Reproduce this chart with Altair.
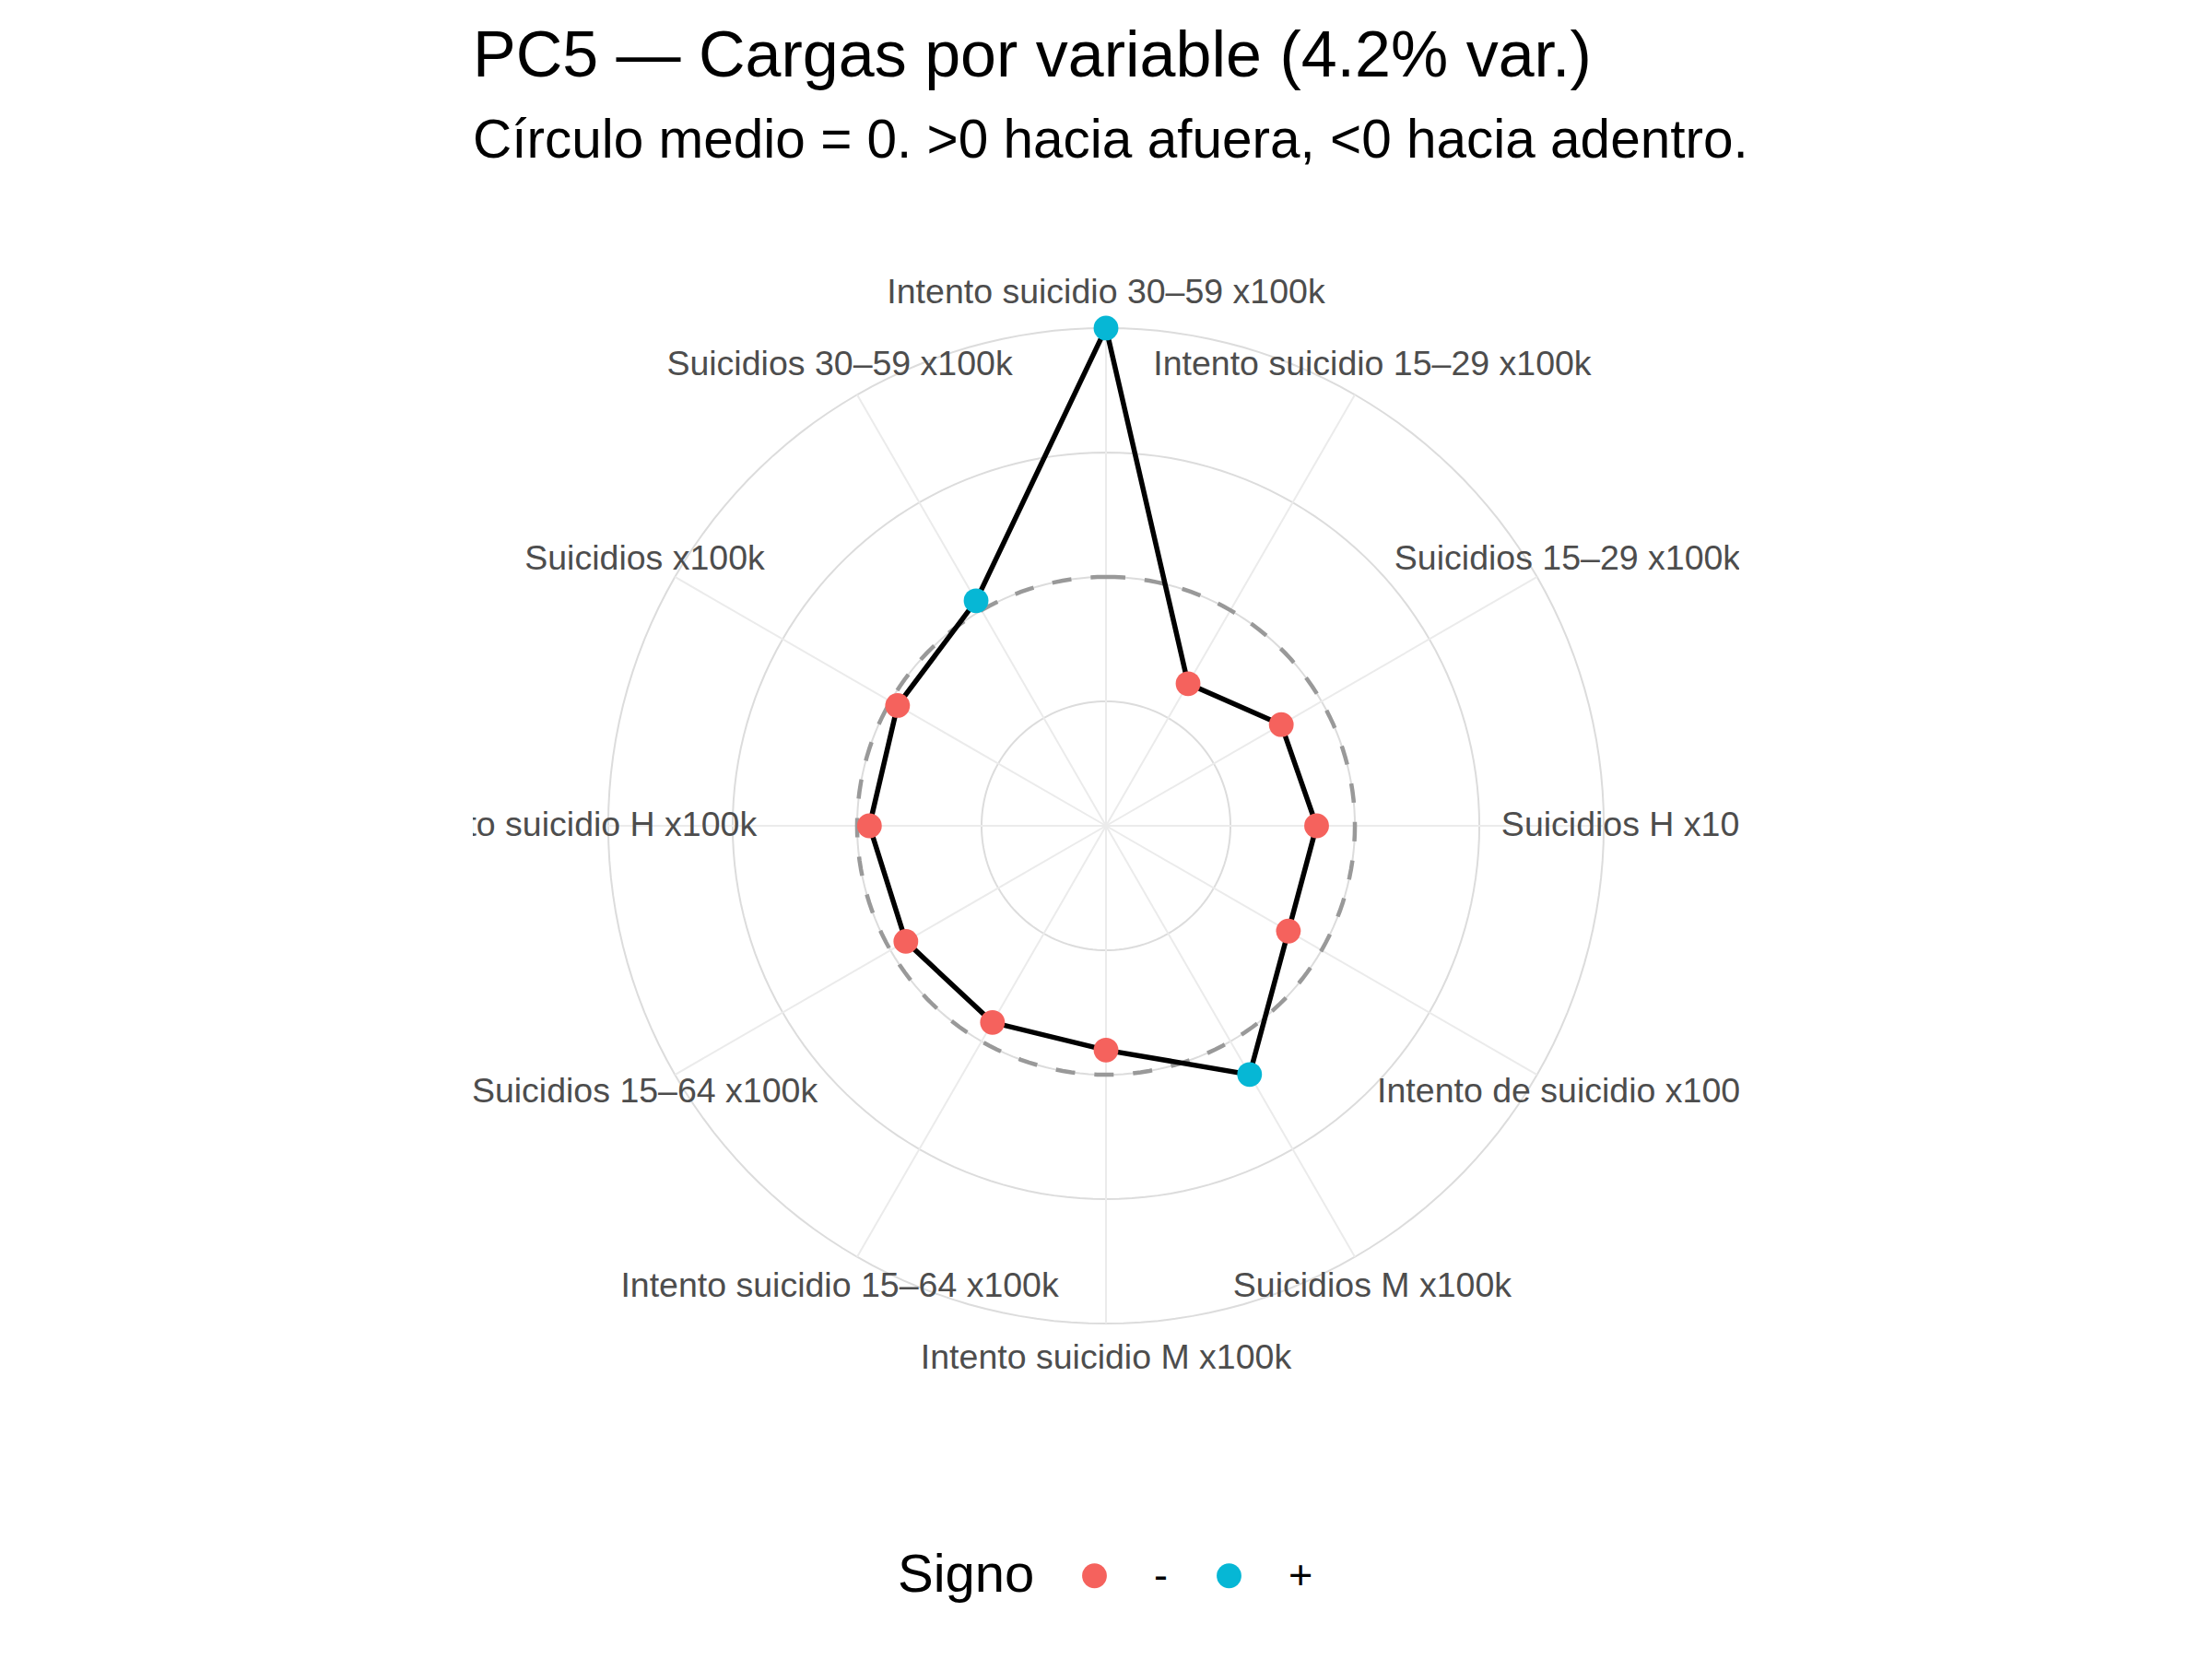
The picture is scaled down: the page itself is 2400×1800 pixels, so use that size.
import altair as alt
import numpy as np
import pandas as pd

# ---- data ----
variables = [
    "Intento suicidio 30–59 x100k",
    "Intento suicidio 15–29 x100k",
    "Suicidios 15–29 x100k",
    "Suicidios H x100k",
    "Intento de suicidio x100k",
    "Suicidios M x100k",
    "Intento suicidio M x100k",
    "Intento suicidio 15–64 x100k",
    "Suicidios 15–64 x100k",
    "Intento suicidio H x100k",
    "Suicidios x100k",
    "Suicidios 30–59 x100k",
]
loadings = [0.91, -0.31, -0.17, -0.14, -0.14, 0.14, -0.09, -0.08, -0.065, -0.045, -0.03, 0.04]
signo_domain = ["-", "+"]
signo_colors = ["#F5625D", "#06B7D5"]
title_text = "PC5 — Cargas por variable (4.2% var.)"
subtitle_text = "Círculo medio = 0. >0 hacia afuera, <0 hacia adentro."

FONT = "Liberation Sans"
L = max(abs(v) for v in loadings)
n = len(variables)
ring_breaks = [-L / 2, 0.0, L / 2, L]   # radial grid breaks (loading units)
label_r = 1.07
dom = 1.272

def rnorm(v):
    return (v / L + 1) / 2

# points
rows = []
for i, (var, v) in enumerate(zip(variables, loadings)):
    th = 2 * np.pi * i / n
    r = rnorm(v)
    rows.append(dict(variable=var, loading=v, order=i,
                     x=r * np.sin(th), y=r * np.cos(th),
                     Signo="+" if v > 0 else "-",
                     sx=np.sin(th), sy=np.cos(th), zero=0.0,
                     lx=label_r * np.sin(th), ly=label_r * np.cos(th)))
df = pd.DataFrame(rows)
df_closed = pd.concat([df, df.iloc[[0]].assign(order=n)], ignore_index=True)

# grid rings
ring_rows = []
for b in ring_breaks:
    r = rnorm(b)
    for d in range(0, 361, 2):
        t = np.deg2rad(d)
        ring_rows.append(dict(level=b, deg=d, x=r * np.sin(t), y=r * np.cos(t)))
rings = pd.DataFrame(ring_rows)
zero_ring = rings[rings.level == 0.0]

xs = alt.Scale(domain=[-dom, dom], nice=False, zero=False)
ys = alt.Scale(domain=[-dom, dom], nice=False, zero=False)

def X(f="x"):
    return alt.X(f"{f}:Q", scale=xs, axis=None)

def Y(f="y"):
    return alt.Y(f"{f}:Q", scale=ys, axis=None)

ring_layer = alt.Chart(rings).mark_line(color="#dcdcdc", strokeWidth=2).encode(
    x=X(), y=Y(), detail="level:N", order="deg:Q")

spokes = alt.Chart(df).mark_rule(color="#ebebeb", strokeWidth=2).encode(
    x=X("zero"), y=Y("zero"), x2="sx:Q", y2="sy:Q")

dashed = alt.Chart(zero_ring).mark_line(color="#999999", strokeWidth=4.5,
                                        strokeDash=[21, 21]).encode(
    x=X(), y=Y(), order="deg:Q")

poly = alt.Chart(df_closed).mark_line(color="black", strokeWidth=5.5).encode(
    x=X(), y=Y(), order="order:Q")

pts = alt.Chart(df).mark_circle(size=720, opacity=1).encode(
    x=X(), y=Y(),
    color=alt.Color("Signo:N",
                    scale=alt.Scale(domain=signo_domain, range=signo_colors),
                    sort=signo_domain,
                    legend=alt.Legend(orient="none", legendX=461, legendY=1478,
                                      direction="horizontal", titleOrient="left",
                                      title="Signo")))

labels = alt.Chart(df).mark_text(clip=True, fontSize=37.5, color="#4d4d4d", font=FONT,
                                 align="center", baseline="middle").encode(
    x=X("lx"), y=Y("ly"), text="variable:N")

chart = alt.layer(ring_layer, spokes, dashed, poly, pts, labels).properties(
    width=1374, height=1374,
    padding={"left": 513, "top": 26, "right": 20, "bottom": 20},
    title=alt.TitleParams(text=title_text, subtitle=subtitle_text, anchor="start",
                          frame="group", font=FONT, subtitleFont=FONT,
                          fontSize=70, subtitleFontSize=58.5, fontWeight="normal",
                          color="black", subtitleColor="black",
                          subtitlePadding=27, offset=26),
).configure_view(stroke=None).configure_legend(
    titleFont=FONT, labelFont=FONT, titleFontSize=58, labelFontSize=45,
    titleFontWeight="normal", titleColor="black", labelColor="black",
    symbolType="circle", symbolSize=720, symbolStrokeWidth=0, symbolOpacity=1,
    labelOffset=42, columnPadding=44, titlePadding=42, titleBaseline="middle",
)

chart.save("out.html", embed_options={"renderer": "svg", "actions": False})
